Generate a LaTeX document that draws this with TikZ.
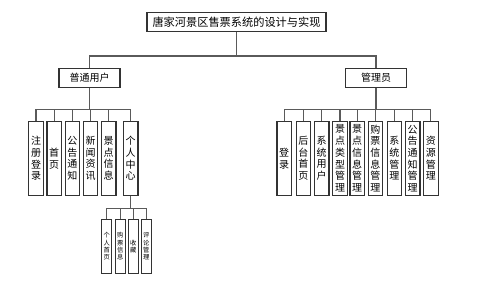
\documentclass[tikz,border=0pt]{standalone}
\usepackage{fontspec}
\newfontfamily\cjk{Noto Sans CJK SC}
\definecolor{boxline}{HTML}{333333}
\definecolor{busline}{HTML}{5A5A5A}

\begin{document}
\begin{tikzpicture}[x=1pt, y=-1pt,
        box/.style={draw=boxline, line width=1.1pt, fill=white, inner sep=0pt},
        headbox/.style={box, minimum width=179pt, minimum height=19.5pt,
                        font=\cjk\fontsize{11.2}{12}\selectfont},
        rolebox/.style={box, minimum width=61pt, minimum height=19pt,
                        font=\cjk\fontsize{10}{12}\selectfont},
        leaf/.style={box, minimum width=14.5pt, minimum height=73.3pt, align=center,
                     font=\cjk\fontsize{10}{11.7}\selectfont},
        subleaf/.style={box, minimum width=10pt, minimum height=54pt, align=center,
                        font=\cjk\fontsize{6.3}{7.2}\selectfont},
        conn/.style={draw=busline, line width=1.2pt}
    ]
    \useasboundingbox[fill=white] (0,0) rectangle (498,289);

    % Title
    \node[headbox] (title) at (236.5, 22) {唐家河景区售票系统的设计与实现};

    % ---- Roles ----
    \node[rolebox] (user)  at (89.5, 77.8) {普通用户};
    \node[rolebox] (admin) at (376, 77.8)  {管理员};

    % ---- 普通用户 leaves ----
    \node[leaf] (u1) at (36, 158.4)    {注\\册\\登\\录};
    \node[leaf] (u2) at (54.2, 158.4)  {首\\页};
    \node[leaf] (u3) at (72.3, 158.4)  {公\\告\\通\\知};
    \node[leaf] (u4) at (90.5, 158.4)  {新\\闻\\资\\讯};
    \node[leaf] (u5) at (108.7, 158.4) {景\\点\\信\\息};
    \node[leaf] (u6) at (130.7, 158.4) {个\\人\\中\\心};

    % ---- 个人中心 leaves ----
    \node[subleaf] (s1) at (106.8, 246.3) {个\\人\\首\\页};
    \node[subleaf] (s2) at (120.2, 246.3) {购\\票\\信\\息};
    \node[subleaf] (s3) at (133.2, 246.3) {收\\藏};
    \node[subleaf] (s4) at (146.2, 246.3) {评\\论\\管\\理};

    % ---- 管理员 leaves ----
    \node[leaf] (a1) at (284.2, 158.4) {登\\录};
    \node[leaf] (a2) at (303.3, 158.4) {后\\台\\首\\页};
    \node[leaf] (a3) at (321.7, 158.4) {系\\统\\用\\户};
    \node[leaf] (a4) at (340, 158.4)   {景\\点\\类\\型\\管\\理};
    \node[leaf] (a5) at (357.2, 158.4) {景\\点\\信\\息\\管\\理};
    \node[leaf] (a6) at (375.3, 158.4) {购\\票\\信\\息\\管\\理};
    \node[leaf] (a7) at (394.3, 158.4) {系\\统\\管\\理};
    \node[leaf] (a8) at (412.7, 158.4) {公\\告\\通\\知\\管\\理};
    \node[leaf] (a9) at (430.8, 158.4) {资\\源\\管\\理};

    % ---- Connectors ----
    \coordinate (b0) at (236.5, 56);
    \coordinate (b1) at (89.5, 109.3);
    \coordinate (b2) at (376, 109.3);
    \coordinate (b3) at (130.7, 208.3);

    \draw[conn] (title) -- (b0);
    \draw[conn] (b0) -| (user);
    \draw[conn] (b0) -| (admin);

    \draw[conn] (user) -- (b1);
    \foreach \n in {u1,u2,u3,u4,u5,u6}
        \draw[conn] (b1) -| (\n);

    \draw[conn] (admin) -- (b2);
    \foreach \n in {a1,a2,a3,a4,a5,a6,a7,a8,a9}
        \draw[conn] (b2) -| (\n);

    \draw[conn] (u6) -- (b3);
    \foreach \n in {s1,s2,s3,s4}
        \draw[conn] (b3) -| (\n);
\end{tikzpicture}
\end{document}
